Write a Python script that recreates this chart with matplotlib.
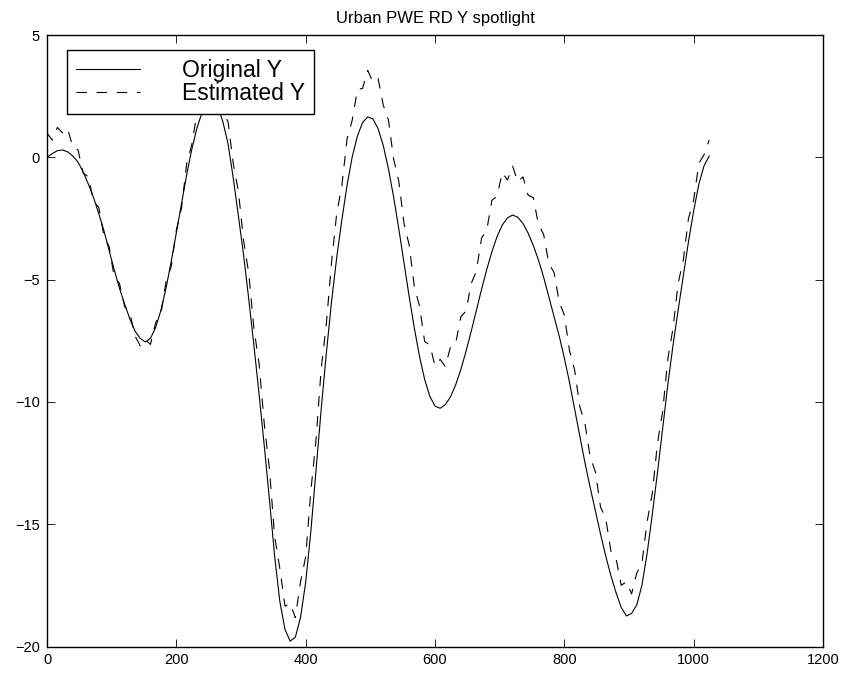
import numpy as np
import matplotlib
matplotlib.use("Agg")
import matplotlib.pyplot as plt

plt.rcParams['font.family'] = ['Liberation Sans', 'DejaVu Sans']
plt.rcParams['lines.scale_dashes'] = False

# sample index (every 8th sample of 1024)
x = list(range(0, 1025, 8))

# original Y
y_orig = [
    0.0, 0.15, 0.27, 0.30, 0.22, 0.05, -0.2, -0.6, -1.1, -1.65,
    -2.3, -3.0, -3.8, -4.6, -5.35, -6.0, -6.6, -7.1, -7.4, -7.55,
    -7.40, -6.96, -6.27, -5.35, -4.27, -3.08, -1.87, -0.71, 0.34, 1.21,
    1.85, 2.25, 2.40, 2.10, 1.45, 0.55, -0.85, -2.4, -4.0, -5.8,
    -7.7, -9.7, -11.8, -14.0, -16.3, -18.15, -19.3, -19.78, -19.62, -18.82,
    -17.38, -15.3, -12.8, -10.3, -8.0, -5.9, -4.1, -2.55, -1.15, 0.02,
    0.87, 1.42, 1.65, 1.57, 1.17, 0.48, -0.47, -1.62, -2.92, -4.3,
    -5.68, -6.98, -8.13, -9.08, -9.77, -10.17, -10.26, -10.11, -9.79, -9.30,
    -8.67, -7.93, -7.11, -6.25, -5.40, -4.59, -3.86, -3.24, -2.77, -2.48,
    -2.36, -2.45, -2.7, -3.1, -3.6, -4.2, -4.9, -5.7, -6.5, -7.3,
    -8.2, -9.2, -10.3, -11.4, -12.5, -13.5, -14.45, -15.4, -16.3, -17.1,
    -17.8, -18.4, -18.75, -18.65, -18.3, -17.5, -16.2, -14.6, -12.9, -11.1,
    -9.3, -7.7, -6.25, -4.85, -3.45, -2.2, -1.1, -0.35, 0.05,
]

# estimated Y (noisy)
y_est = [
    1.00, 0.70, 1.22, 1.00, 1.17, 0.40, 0.30, -0.65, -0.80, -1.80,
    -2.05, -3.20, -3.65, -4.90, -5.15, -6.10, -6.35, -7.30, -7.70, -7.45,
    -7.65, -6.76, -6.42, -5.10, -4.47, -2.98, -2.07, -0.26, 0.54, 1.81,
    2.10, 3.05, 2.75, 2.85, 1.85, 1.45, -0.25, -1.40, -3.40, -4.75,
    -7.00, -8.45, -10.90, -12.75, -15.50, -16.80, -18.35, -18.23, -18.82, -17.37,
    -16.33, -13.65, -11.55, -8.65, -6.80, -4.30, -2.30, -1.15, 0.75, 1.52,
    2.77, 2.82, 3.55, 3.07, 3.22, 2.13, 1.53, -0.07, -0.97, -2.70,
    -3.58, -5.28, -6.08, -7.53, -7.67, -8.52, -8.26, -8.56, -7.74, -7.60,
    -6.52, -6.28, -5.16, -4.65, -3.30, -2.99, -1.76, -1.59, -0.62, -0.93,
    -0.36, -1.00, -0.80, -1.55, -1.65, -2.75, -3.15, -4.35, -4.70, -5.90,
    -6.45, -7.90, -8.70, -10.20, -10.90, -12.25, -12.85, -14.30, -14.75, -16.10,
    -16.40, -17.50, -17.35, -17.85, -17.00, -16.60, -14.90, -13.75, -11.70, -10.40,
    -8.25, -7.00, -5.15, -4.20, -2.50, -1.75, -0.25, 0.10, 0.70,
]

fig = plt.figure(figsize=(8.44, 6.77), dpi=100)
ax = fig.add_axes([0.0557, 0.045, 0.9194, 0.9033])

ax.plot(x, y_orig, color='black', linewidth=0.8, label='Original Y')
ax.plot(x, y_est, color='black', linewidth=0.8, dashes=(7.5, 7), label='Estimated Y')

ax.set_xlim(0, 1200)
ax.set_ylim(-20, 5)
ax.set_xticks(range(0, 1201, 200))
ax.set_yticks(range(-20, 6, 5))
ax.tick_params(direction='in', length=6, width=0.6, top=True, right=True,
               labelsize=10.5, pad=5)
for s in ax.spines.values():
    s.set_linewidth(1.0)

ax.set_title('Urban PWE RD Y spotlight', fontsize=12, pad=9)

# legend box sits at the upper left, with the two rows nearly touching
leg = ax.legend(loc='upper left', bbox_to_anchor=(0.0258, 0.9755), borderaxespad=0,
                fontsize=16.5, handlelength=2.8, handletextpad=1.8, labelspacing=0.0,
                fancybox=False, framealpha=1, edgecolor='black', borderpad=0.4)
leg.get_frame().set_linewidth(1.0)

fig.savefig('out.png', dpi=100)
